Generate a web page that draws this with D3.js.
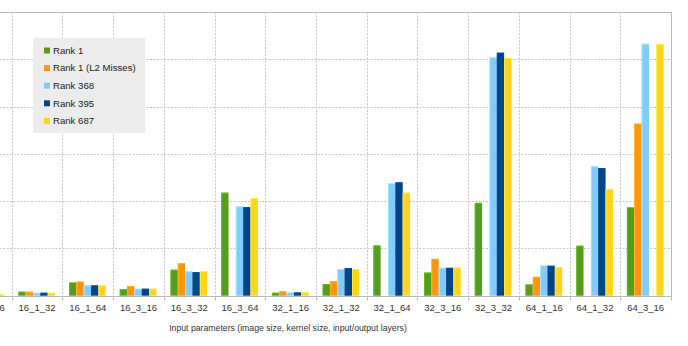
<!DOCTYPE html>
<html>
<head>
<meta charset="utf-8">
<script src="https://cdn.jsdelivr.net/npm/d3@7"></script>
<style>
	html, body { margin: 0; padding: 0; background: #fff; }
	svg { display: block; font-family: "Liberation Sans", Arial, sans-serif; }
</style>
</head>
<body>
<div id="bar_chart"></div>
<script>
// categories (image size _ kernel size _ input/output layers)
var categories = ["16_1_16", "16_1_32", "16_1_64", "16_3_16", "16_3_32", "16_3_64", "32_1_16",
	"32_1_32", "32_1_64", "32_3_16", "32_3_32", "64_1_16", "64_1_32", "64_3_16"];
var series = ["Rank 1", "Rank 1 (L2 Misses)", "Rank 368", "Rank 395", "Rank 687"];
var colors = ["#579d1c", "#ff950e", "#83caff", "#004586", "#ffd320"];

// values per series, one per category (null = no bar)
var rank1 = [0.04, 0.085, 0.28, 0.14, 0.55, 2.18, 0.063, 0.247, 1.065, 0.49, 1.965, 0.24, 1.057, 1.87];
var rank1L2 = [0.05, 0.085, 0.30, 0.205, 0.69, null, 0.093, 0.31, null, 0.78, null, 0.40, null, 3.64];
var rank368 = [0.03, 0.063, 0.22, 0.148, 0.515, 1.89, 0.07, 0.564, 2.375, 0.59, 5.04, 0.64, 2.74, 5.33];
var rank395 = [0.03, 0.063, 0.22, 0.148, 0.50, 1.875, 0.07, 0.585, 2.40, 0.59, 5.14, 0.634, 2.70, null];
var rank687 = [0.03, 0.063, 0.22, 0.148, 0.515, 2.06, 0.07, 0.564, 2.18, 0.60, 5.03, 0.606, 2.255, 5.32];
var seriesValues = [rank1, rank1L2, rank368, rank395, rank687];
var yTicks = [0, 1, 2, 3, 4, 5, 6];

var width = 688, height = 346;
var plotLeft = -39, plotRight = 671, plotTop = 12, plotBottom = 295.7;

var svg = d3.select("#bar_chart").append("svg")
	.attr("width", width)
	.attr("height", height);

var x = d3.scaleBand()
	.domain(categories)
	.range([plotLeft, plotRight]);

var bw = x.bandwidth();
var x1 = d3.scaleBand()
	.domain(series)
	.range([bw * 0.13, bw * 0.855]);

var y = d3.scaleLinear()
	.domain([0, 6])
	.range([plotBottom, plotTop]);

// horizontal grid
svg.append("g").selectAll("line")
	.data(yTicks.slice(1, -1))
	.enter().append("line")
	.attr("x1", plotLeft).attr("x2", plotRight)
	.attr("y1", function(d) { return Math.round(y(d)) + 0.5; })
	.attr("y2", function(d) { return Math.round(y(d)) + 0.5; })
	.attr("stroke", "#c6c6c6")
	.attr("stroke-dasharray", "2,1.5");

// vertical grid between categories
svg.append("g").selectAll("line")
	.data(categories.slice(1))
	.enter().append("line")
	.attr("x1", function(d) { return Math.round(x(d)) + 0.5; })
	.attr("x2", function(d) { return Math.round(x(d)) + 0.5; })
	.attr("y1", plotTop).attr("y2", plotBottom)
	.attr("stroke", "#c6c6c6")
	.attr("stroke-dasharray", "2,1.5");

// bars
var groups = svg.append("g").selectAll("g")
	.data(categories)
	.enter().append("g")
	.attr("transform", function(d) { return "translate(" + x(d) + ",0)"; });

groups.selectAll("rect")
	.data(function(d, ci) {
		return series.map(function(s, si) { return {s: s, i: si, v: seriesValues[si][ci]}; })
			.filter(function(e) { return e.v !== null; });
	})
	.enter().append("rect")
	.attr("x", function(d) { return x1(d.s); })
	.attr("width", x1.bandwidth())
	.attr("y", function(d) { return y(d.v); })
	.attr("height", function(d) { return y(0) - y(d.v); })
	.attr("fill", function(d) { return colors[d.i]; });

// subtle light edge on bars
groups.selectAll("line.edge")
	.data(function(d, ci) {
		return series.map(function(s, si) { return {s: s, i: si, v: seriesValues[si][ci]}; })
			.filter(function(e) { return e.v !== null; });
	})
	.enter().append("path")
	.attr("class", "edge")
	.attr("d", function(d) {
		var l = x1(d.s) + 0.5, t = y(d.v) + 0.5, r = x1(d.s) + x1.bandwidth() - 0.5;
		return "M" + l + "," + y(0) + "V" + t + "H" + r;
	})
	.attr("fill", "none")
	.attr("stroke", function(d) { return d3.color(colors[d.i]).brighter(0.7); })
	.attr("stroke-opacity", 0.6);

// frame: top, right, x axis
var frame = "#b8b8b8";
svg.append("line")
	.attr("x1", plotLeft).attr("x2", plotRight)
	.attr("y1", plotTop + 0.5).attr("y2", plotTop + 0.5)
	.attr("stroke", frame);
svg.append("line")
	.attr("x1", plotRight + 0.5).attr("x2", plotRight + 0.5)
	.attr("y1", plotTop).attr("y2", plotBottom + 5)
	.attr("stroke", frame);

var xAxis = d3.axisBottom(x).tickSize(0).tickPadding(8);
var axisG = svg.append("g")
	.attr("transform", "translate(0," + (Math.round(plotBottom) + 0.5) + ")")
	.call(xAxis);
axisG.select(".domain").attr("stroke", frame).attr("d", "M" + plotLeft + ",0H" + plotRight);
axisG.selectAll("text")
	.attr("fill", "#333")
	.style("font-size", "9.5px")
	.style("font-family", "'Liberation Sans', Arial, sans-serif");

// small tick marks at category boundaries
axisG.append("g").selectAll("line")
	.data(categories.slice(1))
	.enter().append("line")
	.attr("x1", function(d) { return Math.round(x(d)) + 0.5; })
	.attr("x2", function(d) { return Math.round(x(d)) + 0.5; })
	.attr("y1", 0).attr("y2", 4)
	.attr("stroke", frame);

// axis title
svg.append("text")
	.attr("x", 288)
	.attr("y", 331)
	.attr("text-anchor", "middle")
	.attr("fill", "#333")
	.style("font-size", "8.7px")
	.text("Input parameters (image size, kernel size, input/output layers)");

// legend
var legend = svg.append("g").attr("transform", "translate(33,38)");
legend.append("rect")
	.attr("width", 112)
	.attr("height", 95)
	.attr("fill", "#ececec");
var item = legend.selectAll("g")
	.data(series)
	.enter().append("g")
	.attr("transform", function(d, i) { return "translate(0," + (12.5 + i * 17.6) + ")"; });
item.append("rect")
	.attr("x", 11).attr("y", -3)
	.attr("width", 6).attr("height", 6)
	.attr("fill", function(d, i) { return colors[i]; });
item.append("text")
	.attr("x", 20)
	.attr("dy", "0.35em")
	.attr("fill", "#222")
	.style("font-size", "9.6px")
	.text(function(d) { return d; });
</script>
</body>
</html>
